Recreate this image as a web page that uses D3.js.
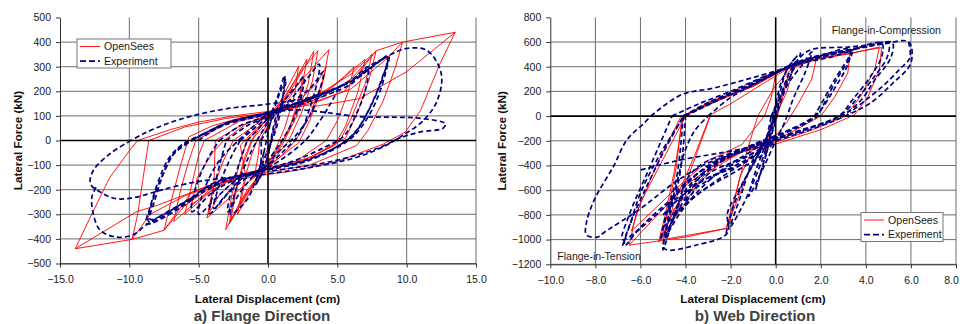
<!DOCTYPE html>
<html>
<head>
<meta charset="utf-8">
<script src="https://cdn.jsdelivr.net/npm/d3@7"></script>
<style>
  body { margin: 0; background: #fff; }
  svg { display: block; font-family: 'Liberation Sans', Arial, sans-serif; }
</style>
</head>
<body>
<svg id="chart" width="960" height="324"></svg>
<script>
// a) Flange direction, OpenSees model loops [disp cm, force kN]
const flangeModel = [
  [[-9.4,0],[-7,45],[-5,75],[-2.5,100],[0,118],[3,150],[6,210],[8.5,330],[9.7,400],[13.5,440],[12.4,312],[11,122],[9.9,34],[8.3,-15],[5,-85],[2,-122],[0,-138],[-3,-165],[-6,-225],[-8.5,-300],[-9.8,-402],[-13.9,-440],[-12.7,-298],[-11.4,-149],[-9.8,-27],[-9.4,0]],
  [[-13.9,-440],[-9.5,-290],[-7.9,-262],[-5,-200],[-2,-150]],
  [[13.5,440],[10,280],[6.6,170],[3,135]],
  [[-8.6,0],[-6,55],[-3,90],[0,112],[3,145],[5.5,200],[7.8,365],[9.7,400],[9.2,300],[8.3,160],[7.2,40],[6.4,-20],[3,-100],[0,-128],[-3,-155],[-5.5,-210],[-7.5,-365],[-9.8,-402],[-9.4,-300],[-9,-150],[-8.6,0]],
  [[-5.7,15],[-4,60],[-2,92],[0,108],[2,135],[4,180],[6,250],[7.8,365],[7.3,250],[6.5,120],[5.6,10],[3,-75],[0,-118],[-2,-142],[-4,-185],[-6,-265],[-7.5,-365],[-7,-250],[-6.3,-100],[-5.7,15]],
  [[-5.2,0],[-3,70],[-1,100],[0,110],[2,140],[4.5,210],[7,330],[6.5,200],[5.6,60],[4.8,-20],[2,-95],[0,-115],[-2,-140],[-4,-190],[-6.8,-330],[-6.3,-200],[-5.7,-80],[-5.2,0]],
  [[-4.6,0],[-2,80],[0,105],[2,140],[4,190],[5.5,260],[6.2,300],[5.8,200],[5,80],[4.2,0],[2,-85],[0,-112],[-2,-140],[-4,-200],[-6,-300],[-5.5,-180],[-5,-60],[-4.6,0]],
  [[-3.2,0],[-1.5,70],[0,105],[2,150],[4,200],[6,270],[7.5,350],[7,230],[6,90],[5.2,0],[3,-70],[0,-112],[-2,-140],[-4,-200],[-5.5,-260],[-5.1,-150],[-4,-50],[-3.2,0]],
  [[-3.8,0],[-2,60],[0,100],[2,150],[3.5,230],[4.2,300],[3.8,200],[3,80],[2.2,-10],[0,-105],[-2,-145],[-3.5,-220],[-4.3,-300],[-3.9,-180],[-3.8,0]],
  [[-2.5,0],[-1,60],[0,100],[1,150],[2.5,250],[4.4,370],[4,250],[3,100],[2,0],[1,-60],[0,-110],[-1,-150],[-2.5,-220],[-4.4,-315],[-4,-200],[-3.2,-80],[-2.5,0]],
  [[-1.5,0],[0,90],[1.5,190],[3.3,362],[2.9,230],[2,90],[1,-20],[0,-100],[-1.5,-200],[-3.05,-362],[-2.6,-220],[-2,-80],[-1.5,0]],
  [[-1,20],[0,95],[1.2,180],[2.5,290],[3.6,365],[3.2,240],[2.4,110],[1.5,0],[0.5,-70],[0,-105],[-1,-170],[-2,-250],[-2.8,-340],[-2.4,-210],[-1.6,-70],[-1,20]],
  [[-1.2,0],[0,80],[1.2,170],[2.8,330],[2.4,200],[1.6,60],[0.8,-30],[0,-90],[-1.2,-190],[-2.7,-330],[-2.3,-200],[-1.7,-70],[-1.2,0]],
  [[-0.8,0],[0,70],[0.8,150],[2.2,300],[1.9,180],[1.2,50],[0.5,-40],[0,-95],[-1,-180],[-2.2,-300],[-1.8,-180],[-1.2,-60],[-0.8,0]],
  [[-2,-20],[-1,40],[0,90],[1.5,170],[2.5,260],[2.2,150],[1.5,40],[0.5,-50],[0,-110],[-1,-170],[-2,-260],[-1.6,-150],[-2,-20]],
  [[-0.6,0],[0,60],[0.8,130],[0.5,40],[0,-30],[-0.6,-110],[-1,-150],[-0.7,-60],[-0.6,0]]
]

// a) Flange direction, experiment loops
const flangeTest = [
  [[-10.1,-7],[-9,27],[-7.3,68],[-5.4,101],[-3,129],[0,148],[3,175],[6,240],[8.7,345],[10.1,375],[11.5,365],[12.5,270],[12.2,162],[11.2,81],[9.7,20],[8.5,-20],[6.4,-68],[3,-110],[0,-135],[-3.7,-156],[-5.9,-176],[-7.8,-203],[-9.5,-230],[-10.9,-237],[-11.9,-216],[-12.8,-176],[-12.6,-122],[-11.4,-54],[-10.1,-7]],
  [[-3,-160],[-6,-250],[-8.7,-340],[-9.8,-385],[-11,-392],[-12.1,-365],[-12.6,-298],[-12.7,-230],[-12.4,-190]],
  [[-5,0],[-3,70],[0,110],[2,125],[4,115],[6.6,97],[9,95],[11,90],[12.8,68],[12.6,49],[11,35],[9.5,10],[8,-30],[5,-80],[2,-110],[0,-125]],
  [[-4.9,20],[-3,70],[-1,100],[0,112],[2,150],[4,190],[6,240],[7.5,300],[8.7,345],[8.5,280],[7.8,160],[6.8,60],[5.8,0],[3,-80],[0,-120],[-2,-145],[-4,-180],[-6.5,-280],[-8.75,-338],[-8.5,-271],[-7.8,-149],[-7.1,-68],[-6.1,-13],[-4.9,20]],
  [[-4.7,25],[-3,72],[0,115],[2,152],[4,193],[6,243],[7.6,305],[8.6,340],[8.3,260],[7.5,150],[6.5,50],[5.5,-5],[3,-78],[0,-118],[-2,-143],[-4,-178],[-6.3,-265],[-8.6,-330],[-8.4,-260],[-7.6,-140],[-6.8,-55],[-4.7,25]],
  [[-5.2,10],[-3,65],[0,108],[2,148],[4,188],[6,245],[7.2,300],[8.6,330],[8.2,250],[7.4,140],[6.4,40],[5.4,-10],[3,-75],[0,-115],[-2,-140],[-4,-175],[-6,-250],[-8.5,-320],[-8.2,-250],[-7.5,-130],[-6.6,-40],[-5.2,10]],
  [[-3.5,0],[-2,60],[0,100],[2,140],[4,180],[6,230],[7.2,290],[7,200],[6.3,100],[5.5,20],[4,-30],[2,-80],[0,-115],[-2,-150],[-4,-210],[-5.5,-290],[-5.2,-190],[-4.3,-70],[-3.5,0]],
  [[-2.5,-20],[-1,60],[0,110],[2,150],[4,190],[5,210],[4.5,150],[3.5,60],[2.5,-10],[0,-110],[-2,-150],[-3.5,-220],[-5,-300],[-4.6,-200],[-3.5,-80],[-2.5,-20]],
  [[-3,0],[-1.5,60],[0,100],[1.5,160],[2.8,250],[3.7,310],[3.6,250],[3,130],[2.3,30],[1,-50],[0,-100],[-1.5,-150],[-3,-220],[-4.2,-297],[-3.9,-200],[-3.4,-80],[-3,0]],
  [[-2,0],[0,95],[1.5,150],[3,210],[4,280],[3.7,200],[3,100],[2,20],[0.5,-60],[0,-100],[-2,-160],[-3.9,-277],[-3.5,-180],[-2.6,-60],[-2,0]],
  [[-1.5,0],[0,90],[1,150],[2,220],[2.6,260],[2.4,180],[1.8,80],[1,0],[0,-80],[-1,-140],[-2,-210],[-2.9,-290],[-2.6,-190],[-2,-80],[-1.5,0]],
  [[-0.8,0],[0,80],[0.7,180],[1.2,265],[1,150],[0.6,50],[0,-40],[-0.8,-150],[-1.5,-240],[-2.7,-300],[-2.3,-200],[-1.5,-80],[-0.8,0]],
  [[-0.3,-50],[0.3,100],[0.9,200],[1.3,250],[1,160],[0.4,40],[0,-60],[-0.4,-130],[-0.9,-180],[-0.6,-110],[-0.3,-50]],
  [[-0.5,0],[0,50],[0.6,120],[0.3,30],[0,-60],[-0.5,-140],[-0.8,-170],[-0.5,-80],[-0.5,0]]
]

// b) Web direction, OpenSees model loops
const webModel = [
  [[-4.1,0],[-2.9,118],[-1.1,240],[0.2,375],[1.5,450],[3.3,510],[4.7,555],[4.6,375],[4.1,160],[3.5,10],[2,-110],[0.1,-220],[-1.5,-290],[-2.5,-380],[-3.5,-560],[-4.3,-780],[-5.2,-1020],[-4.9,-800],[-4.5,-450],[-4.1,0]],
  [[-4.15,0],[-3,100],[-1,240],[0.2,370],[1.8,460],[3.3,505],[4.6,560],[4.4,380],[3.8,170],[3.1,0],[1.5,-120],[0,-210],[-1.5,-290],[-3,-450],[-4.5,-750],[-5.1,-1010],[-4.8,-780],[-4.4,-400],[-4.15,0]],
  [[-4.2,0],[-3,90],[-1,245],[0.3,370],[2,470],[3.3,520],[3.2,350],[2.6,150],[2,0],[0.5,-150],[-1,-250],[-2.5,-370],[-4,-560],[-5.5,-850],[-6.5,-1045],[-6.2,-800],[-5.3,-400],[-4.2,0]],
  [[-6.5,-1045],[-4,-980],[-2.2,-910]],
  [[-2.9,10],[-2,100],[-0.5,270],[0.5,380],[1.8,460],[1.6,300],[1,100],[0.5,-50],[0,-160],[-1,-260],[-1.6,-500],[-2.1,-907],[-5,-1000],[-4.5,-700],[-3.6,-320],[-2.9,10]],
  [[-2.9,0],[-3.5,-300],[-4.2,-650],[-5,-950]],
  [[-4,0],[-3,110],[-1,240],[0,340],[-0.2,150],[-0.5,0],[-1.5,-230],[-3,-360],[-4.5,-600],[-6.4,-930],[-6,-700],[-5,-350],[-4,0]],
  [[-0.8,0],[0,250],[0.8,400],[0.5,200],[0,0],[-0.5,-200],[-1.2,-450],[-2.2,-910],[-1.8,-650],[-1.3,-300],[-0.8,0]],
  [[0,0],[0.3,200],[0.6,350],[0.3,150],[0,-50],[-0.3,-200],[-0.5,-300],[-0.3,-150],[0,0]]
]

// b) Web direction, experiment loops
const webTest = [
  [[-5.54,0],[-4.2,172],[-2.75,227],[-1.26,299],[-0.08,361],[1,420],[1.55,470],[3,530],[4.65,580],[5.9,600],[6,430],[5.2,267],[4.2,105],[3.2,10],[2,-80],[0,-200],[-1.5,-290],[-3,-380],[-4.5,-540],[-6,-750],[-7.6,-940],[-7.9,-980],[-8.4,-961],[-8.4,-866],[-8.05,-678],[-7.2,-408],[-6.6,-192],[-5.84,-57],[-5.54,0]],
  [[-4.06,0],[-3,90],[-1.5,220],[0,350],[1.2,440],[2.5,500],[4,560],[5.17,596],[5.1,470],[4.4,294],[3.8,132],[3,10],[1.5,-100],[0,-190],[-1.5,-280],[-3,-400],[-4.5,-650],[-6,-900],[-6.7,-1050],[-6.7,-1002],[-6.4,-840],[-6,-623],[-5.1,-300],[-4.06,0]],
  [[-4.1,0],[-3,100],[-1.5,225],[0,355],[1.3,445],[2.6,505],[4,565],[5,595],[4.95,480],[4.3,300],[3.6,140],[2.9,10],[1.5,-95],[0,-185],[-1.5,-275],[-3,-410],[-4.5,-640],[-5.1,-1000],[-4.9,-820],[-4.4,-500],[-4.1,0]],
  [[-4.1,0],[-3,110],[-1.5,230],[0,360],[1.5,470],[3.4,530],[3.4,510],[2.7,294],[2,51],[1.85,0],[0.5,-120],[-1,-230],[-2.5,-370],[-4,-600],[-5,-1083],[-4.8,-840],[-4.35,-516],[-4.06,-300],[-3.6,-120],[-3,0]],
  [[-4,0],[-2.8,110],[-1.2,240],[0.2,370],[1.5,460],[3.3,520],[3.3,500],[2.6,290],[1.9,60],[1.7,0],[0.4,-130],[-1,-240],[-2.5,-380],[-4,-620],[-4.9,-1000],[-4.7,-800],[-4.3,-520],[-4.1,-250],[-4,0]],
  [[-3,0],[-2,150],[-0.5,300],[0.96,429],[2,490],[3.3,540],[3.2,420],[2.6,220],[2,50],[1.5,-40],[0,-170],[-1.5,-270],[-3,-420],[-4.95,-1069],[-3.47,-1042],[-2.14,-947],[-2.14,-785],[-1.55,-570],[-0.8,-327],[-0.2,-84],[0,0]],
  [[-4.6,0],[-3.4,100],[-2,200],[-0.5,320],[1,420],[2.5,480],[4.7,590],[4.7,480],[4.2,320],[3.4,130],[2.8,0],[1,-120],[-0.5,-210],[-2,-320],[-3.5,-470],[-5,-750],[-6.8,-1000],[-6.5,-800],[-5.6,-420],[-4.6,0]],
  [[-6.8,-1050],[-6.6,-950],[-6.3,-800],[-5.8,-600],[-5,-300],[-4.1,0]],
  [[-2.2,-950],[-2,-800],[-1.5,-560],[-0.8,-320],[-0.2,-90],[0.2,150],[0.6,350],[1.1,480],[1.6,540],[3.3,560],[5.1,600]],
  [[-0.3,-150],[0,100],[0.3,300],[0.7,430],[1.1,510],[0.8,380],[0.3,200],[0,0],[-0.3,-200],[-0.8,-450],[-1.4,-700],[-2,-894],[-1.5,-620],[-1,-350],[-0.3,-150]],
  [[-0.2,0],[0.5,250],[1.2,420],[1.6,520],[1.3,350],[0.8,150],[0.4,-50],[0,-200],[-0.5,-400],[-1.2,-650],[-0.9,-450],[-0.5,-250],[-0.2,0]],
  [[-0.4,-300],[-0.1,0],[0.2,200],[0.5,380],[0.9,470],[0.6,300],[0.2,100],[-0.1,-100],[-0.5,-350],[-0.9,-600],[-0.6,-420],[-0.4,-300]],
  [[-4.5,-678],[-3,-520],[-2,-400],[-1,-300],[-0.07,-192],[-0.5,-300],[-1.8,-450],[-3.2,-600],[-4.6,-800]],
  [[-5,-800],[-4,-620],[-3,-500],[-2,-420],[-1,-320],[-0.2,-220],[-1,-330],[-2.2,-470],[-3.5,-640],[-5,-900]],
  [[-0.5,-220],[-1.5,-330],[-2.5,-450],[-3.5,-620],[-4.3,-800],[-4.8,-950],[-4.4,-750],[-3.9,-500],[-3.2,-380],[-2,-300],[-0.8,-230]],
  [[-1,-300],[-2,-380],[-3,-470],[-4,-700],[-3.6,-560],[-2.6,-470],[-1.6,-400],[-0.6,-280]],
  [[-5.98,-435],[-4.2,-354],[-2.5,-300],[-1,-250]],
  [[5.9,600],[5.95,470],[5.5,380],[4.8,250],[4,130],[3.3,30]]
]

const flangeXTicks = [-15, -10, -5, 0, 5, 10, 15]
const flangeYTicks = [-500, -400, -300, -200, -100, 0, 100, 200, 300, 400, 500]
const webXTicks = [-10, -8, -6, -4, -2, 0, 2, 4, 6, 8]
const webYTicks = [-1200, -1000, -800, -600, -400, -200, 0, 200, 400, 600, 800]

const legendLabels = ['OpenSees', 'Experiment']

const MODEL_COLOR = '#ff0000'
const TEST_COLOR = '#000080'

const svg = d3.select('#chart')

const drawPanel = (cfg) => {
  const x = d3.scaleLinear().domain(d3.extent(cfg.xTicks)).range([cfg.left, cfg.right])
  const y = d3.scaleLinear().domain(d3.extent(cfg.yTicks)).range([cfg.bottom, cfg.top])
  const g = svg.append('g')

  // Grid
  g.append('g')
    .selectAll('line')
    .data(cfg.yTicks.filter(v => v !== 0 && v !== d3.max(cfg.yTicks)))
    .enter().append('line')
    .attr('x1', cfg.left).attr('x2', cfg.right)
    .attr('y1', d => y(d)).attr('y2', d => y(d))
    .attr('stroke', '#6e6e6e').attr('stroke-width', 1)
  g.append('g')
    .selectAll('line')
    .data(cfg.xTicks.filter(v => v !== 0 && v !== d3.min(cfg.xTicks)))
    .enter().append('line')
    .attr('x1', d => x(d)).attr('x2', d => x(d))
    .attr('y1', cfg.top).attr('y2', cfg.bottom)
    .attr('stroke', '#6e6e6e').attr('stroke-width', 1)

  // Data
  const clipId = 'clip-' + cfg.id
  svg.append('clipPath').attr('id', clipId)
    .append('rect')
    .attr('x', cfg.left).attr('y', cfg.top)
    .attr('width', cfg.right - cfg.left).attr('height', cfg.bottom - cfg.top)

  const modelLine = d3.line()
    .x(d => x(d[0]))
    .y(d => y(d[1]))

  const testLine = d3.line()
    .x(d => x(d[0]))
    .y(d => y(d[1]))
    .curve(d3.curveCatmullRom.alpha(0.5))

  const plot = g.append('g').attr('clip-path', `url(#${clipId})`)

  plot.append('g').selectAll('path')
    .data(cfg.model)
    .enter().append('path')
    .attr('d', modelLine)
    .attr('fill', 'none')
    .attr('stroke', MODEL_COLOR)
    .attr('stroke-width', 0.9)
    .attr('stroke-linejoin', 'round')

  plot.append('g').selectAll('path')
    .data(cfg.test)
    .enter().append('path')
    .attr('d', testLine)
    .attr('fill', 'none')
    .attr('stroke', TEST_COLOR)
    .attr('stroke-width', 1.7)
    .style('stroke-dasharray', '5, 3')

  // Zero lines
  g.append('line')
    .attr('x1', cfg.left).attr('x2', cfg.right)
    .attr('y1', y(0)).attr('y2', y(0))
    .attr('stroke', '#000').attr('stroke-width', 1.6)
  g.append('line')
    .attr('x1', x(0)).attr('x2', x(0))
    .attr('y1', cfg.top).attr('y2', cfg.bottom)
    .attr('stroke', '#000').attr('stroke-width', 1.6)

  // Axes
  const xAxis = g.append('g')
    .attr('transform', `translate(0, ${cfg.bottom})`)
    .call(d3.axisBottom(x).tickValues(cfg.xTicks).tickFormat(d3.format('.1f')).tickSize(4).tickPadding(8).tickSizeOuter(0))
  const yAxis = g.append('g')
    .attr('transform', `translate(${cfg.left}, 0)`)
    .call(d3.axisLeft(y).tickValues(cfg.yTicks).tickFormat(d3.format('d')).tickSize(4).tickPadding(5).tickSizeOuter(0))

  ;[xAxis, yAxis].forEach(a => {
    a.select('.domain').attr('stroke', '#333').attr('stroke-width', 1)
    a.selectAll('.tick line').attr('stroke', '#333')
    a.selectAll('text')
      .attr('fill', '#1a1a1a')
      .style('font-size', '10.5px')
      .style('font-family', "'Liberation Sans', Arial, sans-serif")
  })

  // keep the last x label inside the page
  xAxis.selectAll('.tick text')
    .filter(d => x(d) + 9 > 960)
    .attr('x', d => 960 - 9 - x(d))

  // Titles
  g.append('text')
    .attr('transform', `translate(${cfg.yTitleX}, ${(cfg.top + cfg.bottom) / 2}) rotate(-90)`)
    .attr('text-anchor', 'middle')
    .attr('dy', '0.35em')
    .style('font-size', '11.7px')
    .style('font-weight', 'bold')
    .attr('fill', '#111')
    .text('Lateral Force (kN)')

  g.append('text')
    .attr('x', cfg.xTitleX).attr('y', 299)
    .attr('text-anchor', 'middle')
    .attr('dy', '0.35em')
    .style('font-size', '11.7px')
    .style('font-weight', 'bold')
    .attr('fill', '#111')
    .text('Lateral Displacement (cm)')

  g.append('text')
    .attr('x', cfg.captionX).attr('y', 315.5)
    .attr('text-anchor', 'middle')
    .attr('dy', '0.35em')
    .style('font-size', '15.2px')
    .style('font-weight', 'bold')
    .attr('fill', '#404040')
    .text(cfg.caption)

  // Notes
  cfg.notes.forEach(n => {
    g.append('text')
      .attr('x', n.x).attr('y', n.y)
      .attr('dy', '0.35em')
      .style('font-size', '10.5px')
      .attr('fill', '#1a1a1a')
      .text(n.text)
  })

  // Legend
  const lg = g.append('g').attr('transform', `translate(${cfg.legend.x}, ${cfg.legend.y})`)
  lg.append('rect')
    .attr('width', cfg.legend.w).attr('height', 29)
    .attr('fill', '#fff').attr('stroke', '#777').attr('stroke-width', 1)
  legendLabels.forEach((label, i) => {
    const ly = 7.5 + i * 14.7
    lg.append('line')
      .attr('x1', 3).attr('x2', 23).attr('y1', ly).attr('y2', ly)
      .attr('stroke', i === 0 ? MODEL_COLOR : TEST_COLOR)
      .attr('stroke-width', i === 0 ? 0.9 : 1.7)
      .style('stroke-dasharray', i === 0 ? null : '6, 3')
    lg.append('text')
      .attr('x', 27).attr('y', ly)
      .attr('dy', '0.35em')
      .style('font-size', '10.6px')
      .attr('fill', '#1a1a1a')
      .text(label)
  })
}

drawPanel({
  id: 'flange',
  left: 60, right: 476, top: 17.5, bottom: 263.5,
  xTicks: flangeXTicks, yTicks: flangeYTicks,
  model: flangeModel, test: flangeTest,
  yTitleX: 18, xTitleX: 267.5, captionX: 262,
  caption: 'a) Flange Direction',
  legend: { x: 77, y: 39, w: 94 },
  notes: []
})

drawPanel({
  id: 'web',
  left: 550.3, right: 956, top: 17.3, bottom: 264.3,
  xTicks: webXTicks, yTicks: webYTicks,
  model: webModel, test: webTest,
  yTitleX: 502.3, xTitleX: 753, captionX: 755,
  caption: 'b) Web Direction',
  legend: { x: 861, y: 212.5, w: 82 },
  notes: [
    { x: 831.7, y: 30.7, text: 'Flange-in-Compression' },
    { x: 557.3, y: 256, text: 'Flange-in-Tension' }
  ]
})
</script>
</body>
</html>
